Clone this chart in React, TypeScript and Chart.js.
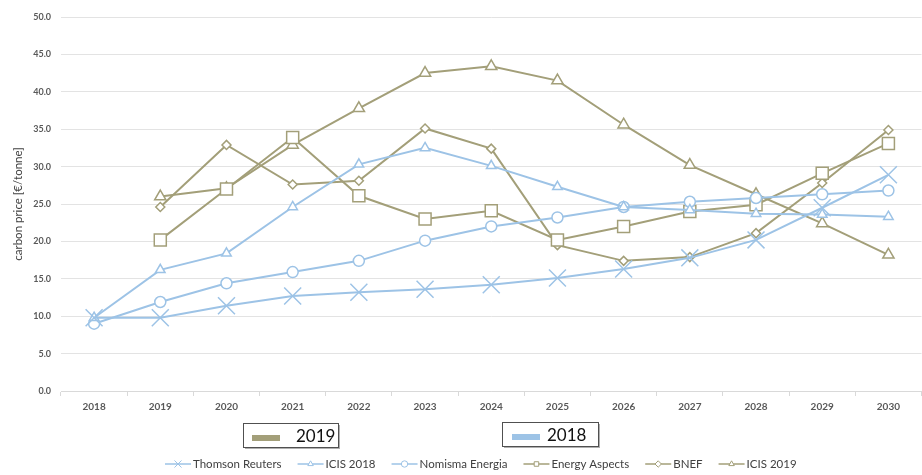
import React, { useEffect, useRef } from 'react';
import { Chart, registerables } from 'chart.js';
import { drawPoint } from 'chart.js/helpers';

Chart.register(...registerables);

const years = ['2018', '2019', '2020', '2021', '2022', '2023', '2024', '2025', '2026', '2027', '2028', '2029', '2030'];

const thomsonReuters = [9.8, 9.8, 11.4, 12.7, 13.2, 13.6, 14.2, 15.1, 16.3, 17.8, 20.2, 24.5, 28.9];
const icis2018 = [9.8, 16.2, 18.4, 24.6, 30.3, 32.5, 30.1, 27.3, 24.6, 24.2, 23.7, 23.6, 23.3];
const nomismaEnergia = [9.0, 11.9, 14.4, 15.9, 17.4, 20.1, 22.0, 23.2, 24.6, 25.3, 25.8, 26.3, 26.8];
const energyAspects = [null, 20.2, 27.0, 33.9, 26.1, 23.0, 24.1, 20.2, 22.0, 24.0, 24.9, 29.1, 33.1];
const bnef = [null, 24.6, 32.9, 27.6, 28.1, 35.1, 32.4, 19.5, 17.4, 17.9, 21.1, 27.8, 34.9];
const icis2019 = [null, 26.0, 27.1, 32.9, 37.8, 42.5, 43.4, 41.5, 35.6, 30.2, 26.3, 22.4, 18.2];

const yTicks = [0, 5, 10, 15, 20, 25, 30, 35, 40, 45, 50];
const yTitle = 'carbon price [€/tonne]';
const groupLabels = ['2019', '2018'];

const BLUE = '#9dc3e6';
const OLIVE = '#a39f79';
const FONT = 'Lato, "Open Sans", sans-serif';

const legendPlugin = {
  id: 'customLegend',
  afterDraw(chart: any) {
    const ctx = chart.ctx as CanvasRenderingContext2D;
    ctx.save();

    const drawBox = (x: number, y: number, w: number, h: number, color: string, label: string, sx: number, tx: number) => {
      ctx.fillStyle = '#b0b0b0';
      ctx.fillRect(x + 2, y + 2, w, h);
      ctx.fillStyle = '#ffffff';
      ctx.fillRect(x, y, w, h);
      ctx.strokeStyle = '#505050';
      ctx.lineWidth = 1;
      ctx.strokeRect(x + 0.5, y + 0.5, w, h);
      ctx.fillStyle = color;
      ctx.fillRect(sx, y + 12, 28, 6);
      ctx.fillStyle = '#111111';
      ctx.font = `17px ${FONT}`;
      ctx.textBaseline = 'middle';
      ctx.textAlign = 'left';
      ctx.fillText(label, tx, y + 14);
    };
    drawBox(243, 423, 95, 24, OLIVE, groupLabels[0], 252, 296);
    drawBox(502, 422, 96, 24, BLUE, groupLabels[1], 512, 547);

    let x = 165;
    const y = 464;
    ctx.font = `11.5px ${FONT}`;
    ctx.textBaseline = 'middle';
    ctx.textAlign = 'left';
    chart.data.datasets.forEach((ds: any) => {
      ctx.strokeStyle = ds.borderColor;
      ctx.lineWidth = 1.5;
      ctx.beginPath();
      ctx.moveTo(x, y);
      ctx.lineTo(x + 26, y);
      ctx.stroke();
      ctx.fillStyle = '#ffffff';
      ctx.strokeStyle = ds.borderColor;
      ctx.lineWidth = 1;
      drawPoint(ctx, { pointStyle: ds.pointStyle, radius: ds.pointStyle === 'crossRot' ? 5 : 3.2, rotation: 0, borderWidth: 1 } as any, x + 13, y);
      ctx.fillStyle = '#404040';
      ctx.fillText(ds.label, x + 28, y);
      x = x + 28 + ctx.measureText(ds.label).width + 16;
    });
    ctx.restore();
  },
};

export default function App() {
  const ref = useRef<HTMLCanvasElement>(null);
  useEffect(() => {
    const mk = (label: string, data: (number | null)[], color: string, style: string, radius: number) => ({
      label,
      data,
      borderColor: color,
      backgroundColor: '#ffffff',
      borderWidth: 2,
      pointStyle: style,
      pointRadius: radius,
      pointBorderWidth: 1.5,
      pointBackgroundColor: '#ffffff',
      pointBorderColor: color,
      spanGaps: false,
      tension: 0,
    });
    const chart = new Chart(ref.current as HTMLCanvasElement, {
      type: 'line',
      data: {
        labels: years,
        datasets: [
          mk('Thomson Reuters', thomsonReuters, BLUE, 'crossRot', 12),
          mk('ICIS 2018', icis2018, BLUE, 'triangle', 5.5),
          mk('Nomisma Energia', nomismaEnergia, BLUE, 'circle', 5.5),
          mk('Energy Aspects', energyAspects, OLIVE, 'rect', 8.5),
          mk('BNEF', bnef, OLIVE, 'rectRot', 4.5),
          mk('ICIS 2019', icis2019, OLIVE, 'triangle', 6.5),
        ] as any,
      },
      options: {
        responsive: false,
        animation: false,
        layout: { padding: { top: 17, right: 6, left: 0, bottom: 0 } },
        plugins: {
          legend: { display: false },
          tooltip: { enabled: false },
          title: { display: false },
        },
        scales: {
          x: {
            type: 'category',
            offset: true,
            grid: { display: true, drawOnChartArea: false, drawTicks: true, tickLength: 5, color: '#d9d9d9', offset: true },
            border: { display: true, color: '#d9d9d9' },
            ticks: { color: '#595959', font: { family: FONT, size: 10, weight: 'bold' }, padding: 5, maxRotation: 0 },
            afterFit: (s: any) => { s.height = 84; },
          },
          y: {
            min: 0,
            max: 50,
            afterBuildTicks: (s: any) => { s.ticks = yTicks.map((v) => ({ value: v })); },
            grid: { color: '#e3e3e3', drawTicks: false },
            border: { display: false },
            ticks: {
              color: '#595959',
              font: { family: FONT, size: 9, weight: 'bold' },
              padding: 10,
              callback: (v: any) => Number(v).toFixed(1),
            },
            title: {
              display: true,
              text: yTitle,
              color: '#404040',
              font: { family: FONT, size: 11.5 },
              padding: { top: 11, bottom: 0 },
            },
            afterFit: (s: any) => { s.width = 61; },
          },
        },
      } as any,
      plugins: [legendPlugin],
    });
    return () => chart.destroy();
  }, []);
  return (
    <div style={{ position: 'fixed', left: 0, top: 0, width: 922, height: 475, overflow: 'hidden', background: '#ffffff' }}>
      <canvas ref={ref} width={935} height={475} style={{ display: 'block', width: 935, height: 475 }} />
    </div>
  );
}
